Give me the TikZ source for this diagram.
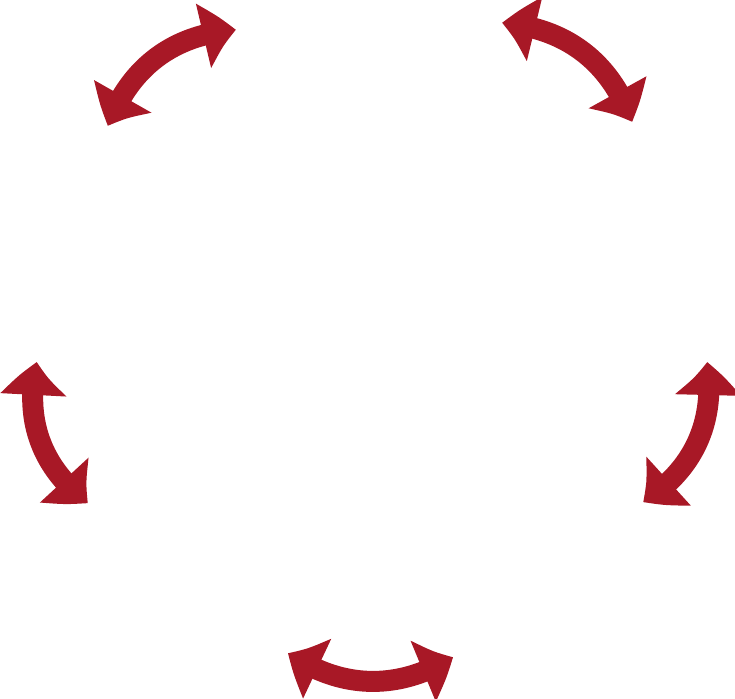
\documentclass[tikz,border=0pt]{standalone}
\usetikzlibrary{arrows.meta,bending}
\definecolor{arrowred}{RGB}{168,24,38}
\tikzset{
  dblarrow/.style={draw=arrowred, line width=21pt,
    {Triangle[width=63pt,length=34pt,bend]}-{Triangle[width=63pt,length=34pt,bend]}},
}
\begin{document}
\begin{tikzpicture}[x=1pt,y=1pt]
\useasboundingbox (0,0) rectangle (735,698);
% end points of the five arrows
\coordinate (b1) at (288,45);
\coordinate (b2) at (453,41);
\coordinate (l1) at (37,336);
\coordinate (l2) at (88,195);
\coordinate (r1) at (643,196);
\coordinate (r2) at (707,336);
\coordinate (tl1) at (236,668);
\coordinate (tl2) at (108,572);
\coordinate (tr1) at (632,576);
\coordinate (tr2) at (502,675);
\draw[dblarrow] (b1) to[bend right=33] (b2);
\draw[dblarrow] (l1) to[bend right=33] (l2);
\draw[dblarrow] (r1) to[bend right=33] (r2);
\draw[dblarrow] (tl1) to[bend right=33] (tl2);
\draw[dblarrow] (tr1) to[bend right=33] (tr2);
\end{tikzpicture}
\end{document}
